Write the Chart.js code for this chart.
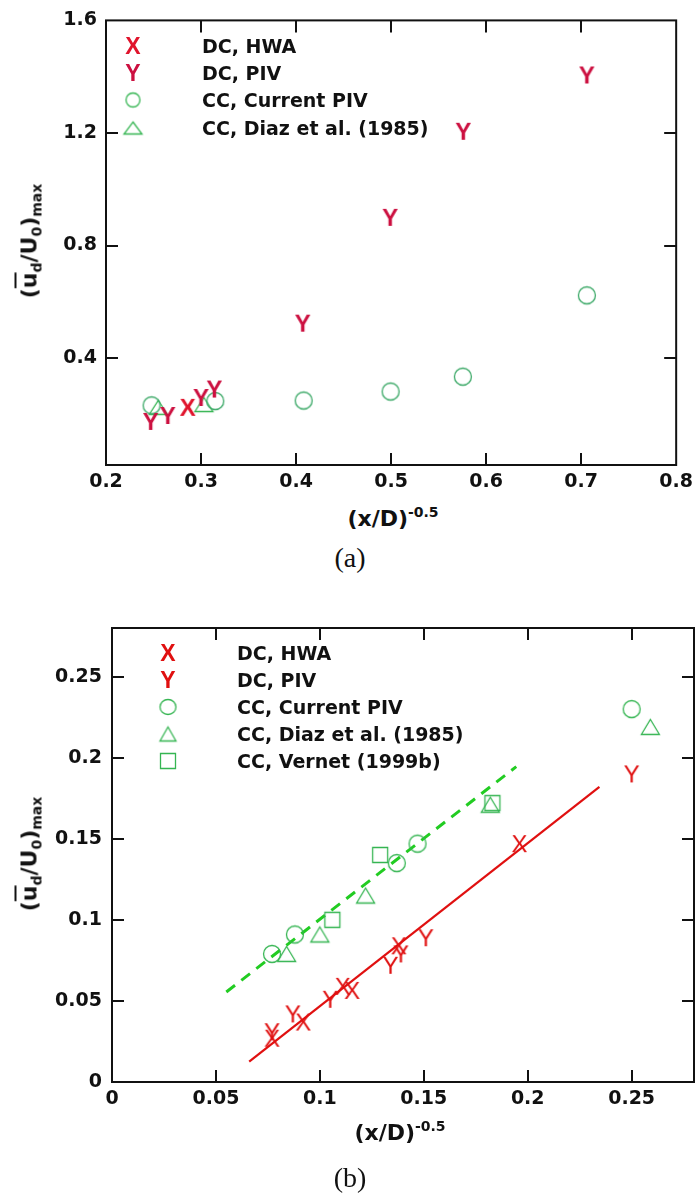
<!DOCTYPE html>
<html>
<head>
<meta charset="utf-8">
<script src="https://cdn.jsdelivr.net/npm/chart.js@4.4.0/dist/chart.umd.min.js"></script>
<style>
body { margin: 0; background: #fff; }
#page { position: relative; width: 699px; height: 1201px; overflow: hidden; font-family: "DejaVu Sans", sans-serif; color: #111; }
canvas.chart { position: absolute; left: 0; }
.ttl { position: absolute; font-weight: bold; font-size: 22px; line-height: 1; white-space: nowrap; }
.ttl sub { font-size: 14px; vertical-align: -5px; }
.ttl sup { font-size: 14px; vertical-align: 9px; }
.ol { text-decoration: overline; }
.ytitle { transform: translate(-50%, -50%) rotate(-90deg); }
.xtitle { transform: translate(-50%, -50%); }
.cap { position: absolute; font-family: "Liberation Serif", serif; font-size: 28px; line-height: 1; transform: translate(-50%, -50%); }
.legtxt { position: absolute; font-weight: bold; font-size: 19px; line-height: 1; white-space: nowrap; transform: translateY(-50%); }
.legmk { position: absolute; transform: translate(-50%, -50%); }
</style>
</head>
<body>
<div id="page">
  <canvas id="chartA" class="chart" width="699" height="500" style="top:0px"></canvas>
  <canvas id="chartB" class="chart" width="699" height="520" style="top:600px"></canvas>

  <div class="ttl ytitle" style="left:31px; top:241px">(<span class="ol">u</span><sub>d</sub>/U<sub>0</sub>)<sub>max</sub></div>
  <div class="ttl xtitle" style="left:393px; top:517px">(x/D)<sup>-0.5</sup></div>
  <div class="cap" style="left:350px; top:558px">(a)</div>

  <div class="ttl ytitle" style="left:31px; top:854px">(<span class="ol">u</span><sub>d</sub>/U<sub>0</sub>)<sub>max</sub></div>
  <div class="ttl xtitle" style="left:400px; top:1131px">(x/D)<sup>-0.5</sup></div>
  <div class="cap" style="left:350px; top:1178px">(b)</div>
</div>
<script>
// ---- chart (a) data ----
const xTicksA = [0.2, 0.3, 0.4, 0.5, 0.6, 0.7, 0.8]
const yTicksA = [0.4, 0.8, 1.2, 1.6]
const hwaA_x = [0.286]
const hwaA_y = [0.225]
const pivA_x = [0.247, 0.265, 0.300, 0.314, 0.407, 0.499, 0.576, 0.706]
const pivA_y = [0.175, 0.196, 0.260, 0.290, 0.524, 0.900, 1.206, 1.406]
const curA_x = [0.248, 0.315, 0.408, 0.4995, 0.5755, 0.706]
const curA_y = [0.232, 0.247, 0.249, 0.281, 0.334, 0.623]
const diazA_x = [0.255, 0.303]
const diazA_y = [0.225, 0.235]

// ---- chart (b) data ----
const xTicksB = [0, 0.05, 0.1, 0.15, 0.2, 0.25]
const yTicksB = [0, 0.05, 0.1, 0.15, 0.2, 0.25]
const hwaB_x = [0.077, 0.092, 0.111, 0.1155, 0.138, 0.196]
const hwaB_y = [0.027, 0.037, 0.059, 0.0565, 0.084, 0.147]
const pivB_x = [0.077, 0.087, 0.105, 0.134, 0.139, 0.151, 0.250]
const pivB_y = [0.031, 0.042, 0.051, 0.072, 0.079, 0.089, 0.190]
const curB_x = [0.077, 0.088, 0.137, 0.147, 0.250]
const curB_y = [0.079, 0.091, 0.135, 0.147, 0.230]
const diazB_x = [0.084, 0.100, 0.122, 0.182, 0.259]
const diazB_y = [0.079, 0.091, 0.115, 0.171, 0.219]
const vernB_x = [0.106, 0.129, 0.183]
const vernB_y = [0.100, 0.140, 0.172]
const fitCC_x = [0.055, 0.1945]
const fitCC_y = [0.0555, 0.1945]
const fitDC_x = [0.066, 0.2345]
const fitDC_y = [0.0125, 0.182]

const legendA = ['DC, HWA', 'DC, PIV', 'CC, Current PIV', 'CC, Diaz et al. (1985)']
const legendB = ['DC, HWA', 'DC, PIV', 'CC, Current PIV', 'CC, Diaz et al. (1985)', 'CC, Vernet (1999b)']

const RED_X = '#e0142c'
const RED_Y = '#cc1040'
const RED_B = '#e01010'
const GREEN = '#35b552'
const GREEN_LINE = '#22cc22'

function pts(xs, ys) {
    return xs.map((x, i) => ({x: x, y: ys[i]}))
}

// letter markers (tecplot style X / Y symbols)
function glyph(ch, color, px, weight) {
    const c = document.createElement('canvas')
    const s = Math.ceil(px * 1.1)
    c.width = s
    c.height = s
    const g = c.getContext('2d')
    g.fillStyle = color
    g.font = weight + ' ' + px + 'px "Liberation Sans", Arial, sans-serif'
    g.textAlign = 'center'
    g.textBaseline = 'alphabetic'
    g.fillText(ch, s / 2, s / 2 + px * 0.716 / 2)
    return c
}

function shape(kind, color, w, h, lw) {
    const c = document.createElement('canvas')
    c.width = Math.ceil(w + lw * 2 + 2)
    c.height = Math.ceil(h + lw * 2 + 2)
    const g = c.getContext('2d')
    g.strokeStyle = color
    g.lineWidth = lw
    const cx = c.width / 2, cy = c.height / 2
    g.beginPath()
    if (kind === 'circle') {
        g.ellipse(cx, cy, w / 2, h / 2, 0, 0, Math.PI * 2)
    } else if (kind === 'tri') {
        g.moveTo(cx, cy - h / 2)
        g.lineTo(cx + w / 2, cy + h / 2)
        g.lineTo(cx - w / 2, cy + h / 2)
        g.closePath()
    } else {
        g.rect(cx - w / 2, cy - h / 2, w, h)
    }
    g.stroke()
    return c
}

// box frame with inward ticks on all four sides
const frame = {
    id: 'frame',
    afterDraw(chart) {
        const ctx = chart.ctx
        const a = chart.chartArea
        const x = chart.scales.x, y = chart.scales.y
        const L = 12
        ctx.save()
        ctx.strokeStyle = '#111'
        ctx.lineWidth = 2
        ctx.strokeRect(a.left, a.top, a.right - a.left, a.bottom - a.top)
        ctx.beginPath()
        for (const t of x.ticks) {
            const px = Math.round(x.getPixelForValue(t.value))
            if (px <= a.left + 2 || px >= a.right - 2) continue
            ctx.moveTo(px, a.bottom); ctx.lineTo(px, a.bottom - L)
            ctx.moveTo(px, a.top); ctx.lineTo(px, a.top + L)
        }
        for (const t of y.ticks) {
            const py = Math.round(y.getPixelForValue(t.value))
            if (py <= a.top + 2 || py >= a.bottom - 2) continue
            ctx.moveTo(a.left, py); ctx.lineTo(a.left + L, py)
            ctx.moveTo(a.right, py); ctx.lineTo(a.right - L, py)
        }
        ctx.stroke()
        ctx.restore()
    }
}

const tickFont = {family: '"DejaVu Sans", sans-serif', size: 19, weight: 'bold'}
function fmt(v) { return String(+v.toFixed(3)) }

function axis(min, max, ticks, fitSize, pad, isX) {
    return {
        type: 'linear',
        min: min,
        max: max,
        afterBuildTicks: s => { s.ticks = ticks.map(v => ({value: v})) },
        afterFit: s => { if (isX) s.height = fitSize; else s.width = fitSize },
        grid: {display: false, drawTicks: false},
        border: {display: false},
        ticks: {font: tickFont, color: '#111', padding: pad, callback: v => fmt(v), maxRotation: 0, autoSkip: false}
    }
}

function baseOptions(padding, xs, ys) {
    return {
        responsive: false,
        animation: false,
        devicePixelRatio: 1,
        layout: {padding: padding},
        plugins: {legend: {display: false}, tooltip: {enabled: false}},
        scales: {x: xs, y: ys}
    }
}

// ---- chart (a) ----
const mkA = {
    hwa: glyph('X', RED_X, 24, 'bold'),
    piv: glyph('Y', RED_Y, 24, 'bold'),
    cur: shape('circle', '#3aa866', 17, 17, 1.3),
    diaz: shape('tri', GREEN, 18, 14, 1.3)
}
new Chart(document.getElementById('chartA'), {
    type: 'scatter',
    data: {
        datasets: [
            {label: legendA[0], data: pts(hwaA_x, hwaA_y), pointStyle: mkA.hwa},
            {label: legendA[1], data: pts(pivA_x, pivA_y), pointStyle: mkA.piv},
            {label: legendA[2], data: pts(curA_x, curA_y), pointStyle: mkA.cur},
            {label: legendA[3], data: pts(diazA_x, diazA_y), pointStyle: mkA.diaz}
        ]
    },
    options: baseOptions({top: 16, right: 17, left: 0, bottom: 0},
        axis(0.2, 0.8, xTicksA, 35, 6, true),
        axis(0.02, 1.6, yTicksA, 106, 9, false)),
    plugins: [frame]
})

// ---- chart (b) ----
const mkB = {
    hwa: glyph('X', RED_B, 24, 'normal'),
    piv: glyph('Y', RED_B, 24, 'normal'),
    cur: shape('circle', GREEN, 17, 17, 1.3),
    diaz: shape('tri', GREEN, 18, 15, 1.3),
    vern: shape('rect', GREEN, 15, 15, 1.3)
}
new Chart(document.getElementById('chartB'), {
    type: 'scatter',
    data: {
        datasets: [
            {label: legendB[0], data: pts(hwaB_x, hwaB_y), pointStyle: mkB.hwa},
            {label: legendB[1], data: pts(pivB_x, pivB_y), pointStyle: mkB.piv},
            {label: legendB[2], data: pts(curB_x, curB_y), pointStyle: mkB.cur},
            {label: legendB[3], data: pts(diazB_x, diazB_y), pointStyle: mkB.diaz},
            {label: legendB[4], data: pts(vernB_x, vernB_y), pointStyle: mkB.vern},
            {label: 'CC fit', data: pts(fitCC_x, fitCC_y), showLine: true, pointRadius: 0,
             borderColor: GREEN_LINE, borderWidth: 3, borderDash: [11, 8]},
            {label: 'DC fit', data: pts(fitDC_x, fitDC_y), showLine: true, pointRadius: 0,
             borderColor: RED_B, borderWidth: 2.2}
        ]
    },
    options: baseOptions({top: 28, right: 4, left: 0, bottom: 0},
        axis(0, 0.28, xTicksB, 38, 6, true),
        axis(0, 0.28, yTicksB, 112, 10, false)),
    plugins: [frame]
})

// ---- legends (inside plot areas) ----
const page = document.getElementById('page')
function legend(labels, markers, mx, tx, y0, dy) {
    labels.forEach((txt, i) => {
        const y = y0 + i * dy
        const m = markers[i]
        m.className = 'legmk'
        m.style.left = mx + 'px'
        m.style.top = y + 'px'
        page.appendChild(m)
        const t = document.createElement('div')
        t.className = 'legtxt'
        t.style.left = tx + 'px'
        t.style.top = y + 'px'
        t.textContent = txt
        page.appendChild(t)
    })
}
legend(legendA, [glyph('X', RED_X, 23, 'bold'), glyph('Y', RED_Y, 23, 'bold'),
    shape('circle', GREEN, 14, 14, 1.3), shape('tri', GREEN, 18, 12, 1.3)], 133, 202, 46, 27.2)
legend(legendB, [glyph('X', RED_B, 23, 'bold'), glyph('Y', RED_B, 23, 'bold'),
    shape('circle', GREEN, 16, 15, 1.3), shape('tri', GREEN, 16, 14, 1.3),
    shape('rect', GREEN, 15, 15, 1.3)], 168, 237, 653, 27)
</script>
</body>
</html>
